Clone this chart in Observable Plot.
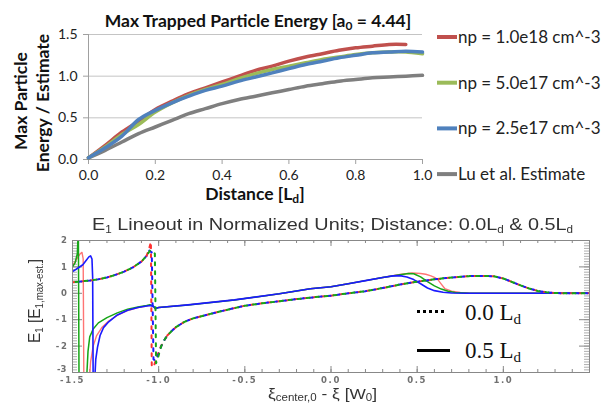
<!DOCTYPE html>
<html><head><meta charset="utf-8">
<script src="https://cdn.jsdelivr.net/npm/d3@7"></script>
<script src="https://cdn.jsdelivr.net/npm/@observablehq/plot@0.6"></script>
<style>
body{margin:0;background:#fff;}
#wrap{position:relative;width:608px;height:405px;overflow:hidden;background:#fff;}
#wrap > svg{display:block;}
#overlay{position:absolute;left:0;top:0;pointer-events:none;}
.top g[aria-label^="x-axis"] line,.top g[aria-label^="y-axis"] line,
.top g[aria-label^="x-axis"] path,.top g[aria-label^="y-axis"] path{stroke:#a0a0a0;}
.bot g[aria-label^="x-axis"] text,.bot g[aria-label^="y-axis"] text{
  font-family:"DejaVu Sans";font-weight:bold;font-size:8.5px;letter-spacing:1.6px;fill:#707070;}
.bot{filter:blur(0.3px);}
</style></head><body><div id="wrap"></div>
<script>
// ---------- Top chart: Max Trapped Particle Energy ----------
const distance    = [0,0.05,0.1,0.15,0.2,0.25,0.3,0.35,0.4,0.45,0.5,0.55,0.6,0.65,0.7,0.75,0.8,0.85,0.9,0.95,1.0];
const np1e18      = [0.02,0.17,0.33,0.46,0.60,0.70,0.79,0.86,0.93,1.00,1.07,1.12,1.18,1.23,1.27,1.31,1.34,1.36,1.38,1.38,null];
const np5e17      = [0.02,0.15,0.30,0.42,0.57,0.68,0.77,0.84,0.90,0.97,1.03,1.08,1.12,1.16,1.20,1.23,1.26,1.28,1.29,1.29,1.27];
const np2p5e17    = [0.02,0.14,0.28,0.48,0.59,0.68,0.76,0.83,0.88,0.94,0.99,1.04,1.09,1.14,1.18,1.22,1.25,1.28,1.29,1.30,1.29];
const luEstimate  = [0.02,0.11,0.21,0.31,0.39,0.47,0.55,0.61,0.67,0.72,0.76,0.80,0.84,0.88,0.91,0.94,0.96,0.98,0.99,1.00,1.01];
const topXTicks   = [0,0.2,0.4,0.6,0.8,1.0];
const topYTicks   = [0,0.5,1.0,1.5];
const topSeriesNames = ["np = 1.0e18 cm^-3","np = 5.0e17 cm^-3","np = 2.5e17 cm^-3","Lu et al. Estimate"];
const topColors   = ["#c0504d","#9bbb59","#4f81bd","#7f7f7f"];

// ---------- Bottom chart: E1 lineout ----------
// 0.0 Ld (dashed): shared head, per-colour spike near xi=-1.03, shared tail
const dashHeadXi = [-1.5,-1.45,-1.4,-1.35,-1.3,-1.25,-1.2,-1.15,-1.1,-1.07];
const dashHeadE  = [0.42,0.45,0.48,0.53,0.60,0.70,0.82,0.98,1.20,1.42];
const dashSpikeRedXi   = [-1.055,-1.045,-1.04,-1.025,-1.01,-0.99,-0.97];
const dashSpikeRedE    = [1.70,1.95,-2.8,-2.7,-2.4,-2.05,-1.8];
const dashSpikeGreenXi = [-1.05,-1.035,-1.022,-1.015,-1.0,-0.985,-0.97];
const dashSpikeGreenE  = [1.62,1.60,1.50,-2.65,-2.35,-2.0,-1.8];
const dashSpikeBlueXi  = [-1.055,-1.04,-1.03,-1.02,-1.0,-0.985,-0.97];
const dashSpikeBlueE   = [1.62,1.55,-2.5,-2.55,-2.3,-2.0,-1.8];
const dashTailXi = [-0.95,-0.92,-0.9,-0.85,-0.8,-0.7,-0.6,-0.5,-0.4,-0.3,-0.2,-0.1,0,0.1,0.2,0.3,0.4,0.5,0.6,0.7,0.8,0.9,0.95,1.0,1.05,1.1,1.15,1.2,1.25,1.3,1.35,1.5];
const dashTailE  = [-1.6,-1.4,-1.28,-1.08,-0.95,-0.78,-0.62,-0.47,-0.38,-0.30,-0.22,-0.15,-0.09,0.0,0.08,0.20,0.33,0.44,0.53,0.60,0.65,0.66,0.64,0.56,0.43,0.30,0.18,0.09,0.04,0.01,0,0];

// 0.5 Ld (solid): per-colour head, shared middle, per-colour tail
const solidBlueHeadXi = [-1.5,-1.47,-1.44,-1.42,-1.405,-1.395,-1.387,-1.383,-1.38,-1.372,-1.365,-1.355,-1.34,-1.32,-1.29,-1.24,-1.18,-1.12,-1.07,-1.045,-1.03,-1.02];
const solidBlueHeadE  = [0.82,0.95,1.08,1.25,1.38,1.42,1.30,0.6,-3.4,-3.4,-2.5,-2.05,-1.6,-1.3,-1.08,-0.82,-0.64,-0.54,-0.48,-0.46,-0.5,-0.58];
const solidGreenHeadXi = [-1.5,-1.485,-1.472,-1.466,-1.462,-1.44,-1.42,-1.41,-1.4,-1.38,-1.35,-1.3,-1.24,-1.18,-1.12,-1.07,-1.05,-1.03,-1.02];
const solidGreenHeadE  = [1.0,1.15,1.5,2.5,-3.5,-3.5,-3.5,-2.2,-1.65,-1.35,-1.12,-0.92,-0.74,-0.6,-0.52,-0.46,-0.43,-0.49,-0.57];
const solidRedHeadXi = [-1.5,-1.485,-1.47,-1.455,-1.445,-1.438,-1.434,-1.405,-1.395,-1.38,-1.36,-1.33,-1.29,-1.24,-1.18,-1.12,-1.07,-1.045,-1.03,-1.02];
const solidRedHeadE  = [1.05,1.2,1.35,1.5,1.55,1.3,-3.5,-3.5,-2.6,-2.0,-1.6,-1.3,-1.05,-0.84,-0.65,-0.54,-0.48,-0.45,-0.5,-0.58];
const solidMidXi = [-1.0,-0.83,-0.56,-0.3,-0.12,0,0.1,0.2,0.3];
const solidMidE  = [-0.54,-0.44,-0.25,-0.02,0.17,0.25,0.36,0.48,0.60];
const solidBlueTailXi  = [0.36,0.4,0.44,0.48,0.52,0.56,0.6,0.65,0.7,0.8,1.5];
const solidBlueTailE   = [0.66,0.67,0.62,0.52,0.36,0.20,0.10,0.04,0.01,0,0];
const solidGreenTailXi = [0.4,0.45,0.48,0.52,0.56,0.6,0.64,0.68,0.72,0.8,1.5];
const solidGreenTailE  = [0.70,0.75,0.74,0.62,0.44,0.28,0.16,0.08,0.03,0.005,0];
const solidRedTailXi   = [0.4,0.47,0.52,0.55,0.58,0.6,0.62,0.64,0.66,0.7,0.75,0.8,1.5];
const solidRedTailE    = [0.71,0.77,0.75,0.72,0.66,0.60,0.52,0.35,0.18,0.08,0.03,0.01,0];

const botXLabelTicks = [-1.5,-1.0,-0.5,0,0.5,1.0];
const botYLabelTicks = [-2,-1,0,1,2];
const botYCornerLabel = [-3];
const botXMajor = [-1.5,-1.0,-0.5,0,0.5,1.0,1.5];
const botYMajor = [-3,-2,-1,0,1,2];
const botColors = {red:"#ff3030", green:"#16a516", blue:"#1a1aff", redSolid:"#ff7474"};

// ---------- build ----------
const wrap = document.getElementById("wrap");

const topPlot = Plot.plot({
  width: 608, height: 205,
  marginLeft: 88, marginRight: 186, marginTop: 34, marginBottom: 46,
  style: {fontFamily: "Lato", fontSize: "14px", color: "#222", background: "transparent"},
  x: {domain: [0,1], ticks: topXTicks, tickFormat: d3.format(".1f"), tickSize: 5, tickPadding: 6, label: null},
  y: {domain: [0,1.5], ticks: topYTicks, tickFormat: d3.format(".1f"), tickSize: 5, tickPadding: 6, label: null},
  marks: [
    Plot.ruleY(topYTicks.filter(d => d > 0), {stroke: "#c4c4c4", strokeWidth: 1}),
    Plot.ruleY([0], {stroke: "#a0a0a0"}),
    Plot.ruleX([0], {stroke: "#a0a0a0"}),
    Plot.line(distance, {x: distance, y: luEstimate, stroke: topColors[3], strokeWidth: 3.5, curve: "catmull-rom"}),
    Plot.line(distance, {x: distance, y: np1e18, stroke: topColors[0], strokeWidth: 3.5, curve: "catmull-rom"}),
    Plot.line(distance, {x: distance, y: np5e17, stroke: topColors[1], strokeWidth: 3.5, curve: "catmull-rom"}),
    Plot.line(distance, {x: distance, y: np2p5e17, stroke: topColors[2], strokeWidth: 3.5, curve: "catmull-rom"})
  ]
});
topPlot.classList.add("top");

const bw = 608, bh = 200, bml = 72, bmr = 19, bmt = 35, bmb = 33;
const xDom = [-1.5, 1.5], yDom = [-3, 2];
const kx = (xDom[1]-xDom[0])/(bw-bml-bmr);
const ky = (yDom[1]-yDom[0])/(bh-bmt-bmb);
const xMinor = d3.range(-15, 16).map(i => i/10);
const yMinor = d3.range(-30, 21).map(i => i/10);

// segments of the dashed 0.0 Ld curves (shared pieces drawn once per colour with shifted dashes)
const dashHead = {xi: dashHeadXi, e: dashHeadE};
const dashTail = {xi: dashTailXi, e: dashTailE};
const spike = (xs, es) => ({
  xi: [dashHeadXi.at(-1), ...xs, dashTailXi[0]],
  e:  [dashHeadE.at(-1), ...es, dashTailE[0]]
});
const spikeRed = spike(dashSpikeRedXi, dashSpikeRedE);
const spikeGreen = spike(dashSpikeGreenXi, dashSpikeGreenE);
const spikeBlue = spike(dashSpikeBlueXi, dashSpikeBlueE);
const solRed    = {xi: [...solidRedHeadXi, ...solidMidXi, ...solidRedTailXi],     e: [...solidRedHeadE, ...solidMidE, ...solidRedTailE]};
const solGreen  = {xi: [...solidGreenHeadXi, ...solidMidXi, ...solidGreenTailXi], e: [...solidGreenHeadE, ...solidMidE, ...solidGreenTailE]};
const solBlue   = {xi: [...solidBlueHeadXi, ...solidMidXi, ...solidBlueTailXi],   e: [...solidBlueHeadE, ...solidMidE, ...solidBlueTailE]};

const lineOf = (s, opts) => Plot.line(s.xi, {x: s.xi, y: s.e, clip: true, ...opts});
const dashOpts = (color, off) => ({stroke: color, strokeWidth: 2, strokeDasharray: "3,6", strokeDashoffset: off});
const fmt = d => (d < 0 ? "-" : "") + Math.abs(d).toFixed(1);

const botPlot = Plot.plot({
  width: bw, height: bh,
  marginLeft: bml, marginRight: bmr, marginTop: bmt, marginBottom: bmb,
  style: {fontFamily: "DejaVu Sans", fontSize: "8.5px", color: "#707070", background: "transparent"},
  x: {domain: xDom, ticks: botXLabelTicks, tickFormat: fmt, tickSize: 0, tickPadding: 4, label: null},
  y: {domain: yDom, ticks: botYLabelTicks, tickFormat: d => String(d), tickSize: 0, tickPadding: 4, label: null},
  marks: [
    // minor & major ticks (inward, all four sides)
    Plot.ruleX(xMinor, {x: d => d, y1: yDom[0], y2: yDom[0] + 3*ky, stroke: "#888"}),
    Plot.ruleX(xMinor, {x: d => d, y1: yDom[1], y2: yDom[1] - 3*ky, stroke: "#888"}),
    Plot.ruleX(botXMajor, {x: d => d, y1: yDom[0], y2: yDom[0] + 6*ky, stroke: "#888"}),
    Plot.ruleX(botXMajor, {x: d => d, y1: yDom[1], y2: yDom[1] - 6*ky, stroke: "#888"}),
    Plot.ruleY(yMinor, {y: d => d, x1: xDom[0], x2: xDom[0] + 5*kx, stroke: "#999", strokeWidth: 0.8}),
    Plot.ruleY(yMinor, {y: d => d, x1: xDom[1], x2: xDom[1] - 5*kx, stroke: "#999", strokeWidth: 0.8}),
    Plot.ruleY(botYMajor, {y: d => d, x1: xDom[0], x2: xDom[0] + 10*kx, stroke: "#888"}),
    Plot.ruleY(botYMajor, {y: d => d, x1: xDom[1], x2: xDom[1] - 10*kx, stroke: "#888"}),
    // corner "-3" label, nudged so it clears the "-1.5" label
    Plot.text(botYCornerLabel, {x: xDom[0], y: d => d, text: d => String(d), textAnchor: "end", dx: -6, dy: -3,
      fontFamily: "DejaVu Sans", fontWeight: "bold", fontSize: 8.5, fill: "#707070"}),
    // 0.5 Ld solid
    lineOf(solRed,   {stroke: botColors.redSolid, strokeWidth: 1.4}),
    lineOf(solGreen, {stroke: botColors.green, strokeWidth: 1.5}),
    lineOf(solBlue,  {stroke: botColors.blue, strokeWidth: 1.6}),
    // 0.0 Ld dashed (overlapping, offset dashes)
    lineOf(dashHead, dashOpts(botColors.red, 0)),
    lineOf(dashHead, dashOpts(botColors.blue, 3)),
    lineOf(dashHead, dashOpts(botColors.green, 6)),
    lineOf(spikeRed,   dashOpts(botColors.red, 0)),
    lineOf(spikeBlue,  dashOpts(botColors.blue, 3)),
    lineOf(spikeGreen, dashOpts(botColors.green, 6)),
    lineOf(dashTail, dashOpts(botColors.red, 0)),
    lineOf(dashTail, dashOpts(botColors.blue, 3)),
    lineOf(dashTail, dashOpts(botColors.green, 6)),
    Plot.frame({stroke: "#888"})
  ]
});
botPlot.classList.add("bot");

wrap.append(topPlot, botPlot);

// ---------- titles, axis labels, legends ----------
const ns = "http://www.w3.org/2000/svg";
const ov = document.createElementNS(ns, "svg");
ov.setAttribute("id", "overlay");
ov.setAttribute("width", 608); ov.setAttribute("height", 405);
const legendRows = topSeriesNames.map((name, i) => {
  const cy = 37 + i * 45.7;
  return `<line x1="437" x2="457" y1="${cy}" y2="${cy}" stroke="${topColors[i]}" stroke-width="4"/>
  <text x="458" y="${cy + 6}" font-family="Lato" font-size="17" fill="#222">${name}</text>`;
}).join("");
ov.innerHTML = `
<g font-family="Lato" font-weight="bold" fill="#111">
  <text x="258" y="27" text-anchor="middle" font-size="17.5">Max Trapped Particle Energy [a<tspan dy="3" font-size="12">0</tspan><tspan dy="-3"> = 4.44]</tspan></text>
  <text transform="translate(27,101) rotate(-90)" text-anchor="middle" font-size="17.5">Max Particle</text>
  <text transform="translate(48.5,103) rotate(-90)" text-anchor="middle" font-size="17.5">Energy / Estimate</text>
  <text x="255" y="200" text-anchor="middle" font-size="17.5">Distance [L<tspan dy="3" font-size="12">d</tspan><tspan dy="-3">]</tspan></text>
</g>
${legendRows}
<g font-family="Liberation Sans" fill="#333" style="filter:blur(0.3px)">
  <text x="92" y="230" font-size="17" textLength="481" lengthAdjust="spacingAndGlyphs">E<tspan font-size="10" dy="3">1</tspan><tspan dy="-3"> Lineout in Normalized Units; Distance: 0.0L</tspan><tspan font-size="10" dy="3">d</tspan><tspan dy="-3"> &amp; 0.5L</tspan><tspan font-size="10" dy="3">d</tspan></text>
  <text transform="translate(40,301) rotate(-90)" text-anchor="middle" font-size="16" textLength="84" lengthAdjust="spacingAndGlyphs">E<tspan font-size="10" dy="3">1</tspan><tspan dy="-3"> [E</tspan><tspan font-size="10" dy="3">1,max-est.</tspan><tspan dy="-3">]</tspan></text>
  <text x="268" y="399" font-size="15" textLength="109" lengthAdjust="spacingAndGlyphs">ξ<tspan font-size="10" dy="2">center,0</tspan><tspan dy="-2"> - ξ [W</tspan><tspan font-size="10" dy="2">0</tspan><tspan dy="-2">]</tspan></text>
</g>
<g font-family="Liberation Serif" fill="#111">
  <line x1="417" x2="447" y1="311.5" y2="311.5" stroke="#000" stroke-width="3" stroke-dasharray="3,3"/>
  <text x="465" y="319.5" font-size="23">0.0 L<tspan font-size="15" dy="4">d</tspan></text>
  <line x1="417" x2="450" y1="350.5" y2="350.5" stroke="#000" stroke-width="3"/>
  <text x="465" y="358" font-size="23">0.5 L<tspan font-size="15" dy="4">d</tspan></text>
</g>`;
wrap.append(ov);
</script>
</body></html>
